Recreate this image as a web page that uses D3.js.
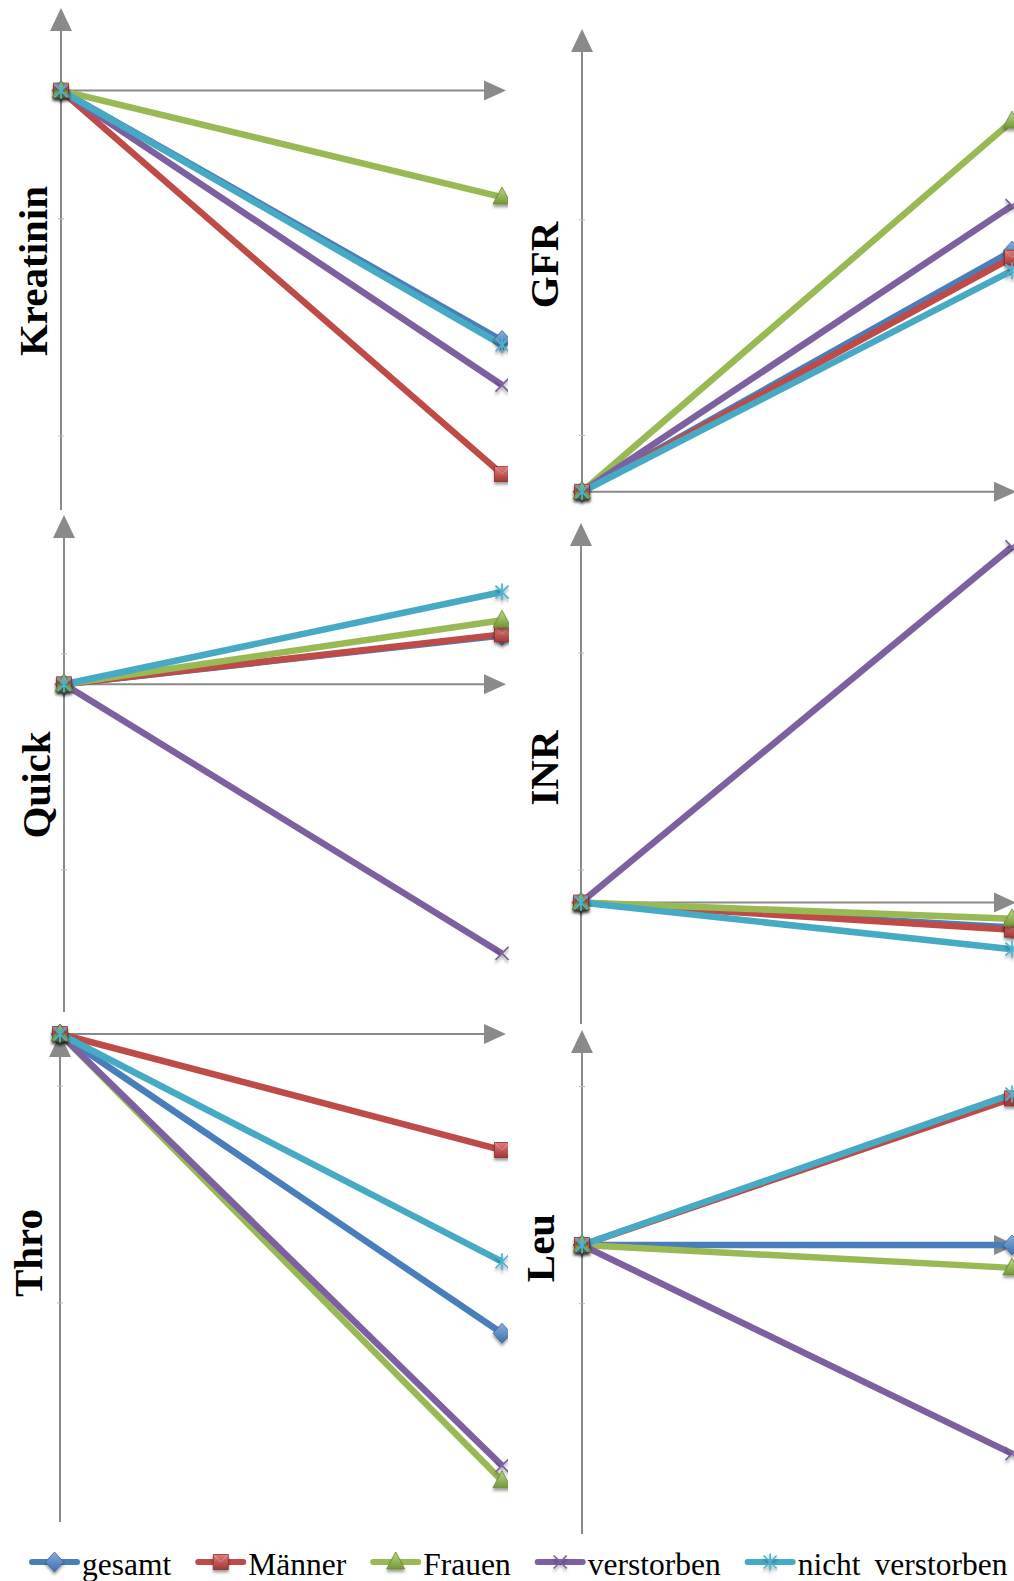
<!DOCTYPE html>
<html>
<head>
<meta charset="utf-8">
<script src="https://cdn.jsdelivr.net/npm/d3@7"></script>
<style>
  html, body { margin: 0; padding: 0; background: #fff; }
  svg { display: block; }
</style>
</head>
<body>
<svg id="chart" width="1014" height="1581"></svg>
<script>
// ---- data ---------------------------------------------------------------
const seriesNames = ["gesamt", "Männer", "Frauen", "verstorben", "nicht verstorben"];
const timepoints = ["Ausgangswert", "Verlauf"];
const parameters = ["Kreatinin", "GFR", "Quick", "INR", "Thro", "Leu"];

// every series is indexed to 0 at the baseline time point
const baselineValues = [0, 0, 0, 0, 0];

// change from baseline (%) at the second time point, in series order
const kreatininValues = [-23.0, -35.3, -9.8, -27.1, -23.4];
const gfrValues       = [22.2, 21.6, 34.2, 26.4, 20.4];
const quickValues     = [4.5, 4.6, 5.9, -24.8, 8.5];
const inrValues       = [-2.3, -2.5, -1.5, 32.8, -4.3];
const throValues      = [-27.6, -10.7, -41.2, -39.8, -21.0];
const leuValues       = [0.0, 13.5, -2.1, -19.2, 13.9];

// value axis extent [min, max] per parameter
const kreatininDomain = [-38.6, 7.6];
const gfrDomain       = [-0.3, 42.7];
const quickDomain     = [-30.2, 15.6];
const inrDomain       = [-11.2, 35.0];
const throDomain      = [-45.0, 0.0];
const leuDomain       = [-26.6, 19.8];

// major tick marks on each value axis
const kreatininTicks = [-11.8, -31.8];
const gfrTicks       = [25.1, 5.2];
const quickTicks     = [2.8, -17.1];
const inrTicks       = [23.0, 3.0];
const throTicks      = [-4.8, -24.8];
const leuTicks       = [14.6, -5.4];

// ---- styling ------------------------------------------------------------
const lineColors = ["#4A7EBB", "#BE4B48", "#98B954", "#7D60A0", "#46AAC5"];
const gradStops = [
  ["#86addf", "#3f6fae"],
  ["#e27b78", "#a13835"],
  ["#bcd983", "#76963a"],
  null,
  null
];
const markerTypes = ["diamond", "square", "triangle", "x", "asterisk"];
const axisColor = "#8a8a8a";

const panelValues  = [kreatininValues, gfrValues, quickValues, inrValues, throValues, leuValues];
const panelDomains = [kreatininDomain, gfrDomain, quickDomain, inrDomain, throDomain, leuDomain];
const panelTicks   = [kreatininTicks, gfrTicks, quickTicks, inrTicks, throTicks, leuTicks];

// panel placement: axis origin column, end column, value axis top/bottom, label anchor
const panelLayout = [
  { x0: 61,  x1: 502,  top: 8,    bottom: 510,  clip: [0, 508],    lx: 47,  ly: 271 },
  { x0: 582, x1: 1012, top: 29,   bottom: 495,  clip: [508, 1014], lx: 558, ly: 265 },
  { x0: 64,  x1: 502,  top: 515,  bottom: 1012, clip: [0, 509],    lx: 50,  ly: 785 },
  { x0: 581, x1: 1012, top: 523,  bottom: 1024, clip: [509, 1014], lx: 558, ly: 768 },
  { x0: 60,  x1: 502,  top: 1034, bottom: 1522, clip: [0, 508],    lx: 42,  ly: 1253 },
  { x0: 582, x1: 1012, top: 1030, bottom: 1534, clip: [508, 1014], lx: 554, ly: 1248 }
];
const panelBands = [[0, 513], [0, 510], [513, 1022], [510, 1027], [1022, 1540], [1027, 1540]];

const svg = d3.select("#chart");
const defs = svg.append("defs");

// bevel-like gradients for filled markers
gradStops.forEach((g, i) => {
  if (!g) return;
  const lg = defs.append("linearGradient")
    .attr("id", "mg" + i).attr("x1", 0).attr("y1", 0).attr("x2", 0).attr("y2", 1);
  lg.append("stop").attr("offset", "0%").attr("stop-color", g[0]);
  lg.append("stop").attr("offset", "100%").attr("stop-color", g[1]);
});

const shadow = defs.append("filter").attr("id", "mshadow")
  .attr("x", "-50%").attr("y", "-50%").attr("width", "200%").attr("height", "200%");
shadow.append("feDropShadow").attr("dx", 0).attr("dy", 2.5)
  .attr("stdDeviation", 1.6).attr("flood-color", "#000").attr("flood-opacity", 0.4);

function drawMarker(g, type, i, x, y, scale = 1) {
  const m = g.append("g")
    .attr("transform", `translate(${x},${y}) scale(${scale})`)
    .attr("filter", "url(#mshadow)");
  if (type === "diamond") {
    m.append("path").attr("d", "M0,-10L9,0L0,10L-9,0Z")
      .attr("fill", `url(#mg${i})`).attr("stroke", "#3a659b").attr("stroke-width", 0.8);
  } else if (type === "square") {
    m.append("rect").attr("x", -7.5).attr("y", -7.5).attr("width", 15).attr("height", 15)
      .attr("fill", `url(#mg${i})`).attr("stroke", "#8c2f2c").attr("stroke-width", 0.8);
    m.append("path").attr("d", "M-7.5,-7.5L0,0L7.5,-7.5").attr("fill", "none")
      .attr("stroke", "rgba(255,255,255,0.35)").attr("stroke-width", 0.8);
  } else if (type === "triangle") {
    m.append("path").attr("d", "M0,-10L9,7L-9,7Z")
      .attr("fill", `url(#mg${i})`).attr("stroke", "#6a8832").attr("stroke-width", 0.8);
  } else if (type === "x") {
    m.append("path").attr("d", "M-6.5,-6.5L6.5,6.5M-6.5,6.5L6.5,-6.5")
      .attr("stroke", "#7D60A0").attr("stroke-width", 1.7).attr("fill", "none");
  } else {
    m.append("path").attr("d", "M-6.5,-6.5L6.5,6.5M-6.5,6.5L6.5,-6.5M0,-8.5L0,8.5")
      .attr("stroke", "#4BB3D0").attr("stroke-width", 1.7).attr("fill", "none");
  }
}

parameters.forEach((name, p) => {
  const L = panelLayout[p];
  const band = panelBands[p];
  const clipId = "clip" + p;
  defs.append("clipPath").attr("id", clipId).append("rect")
    .attr("x", L.clip[0]).attr("y", band[0])
    .attr("width", L.clip[1] - L.clip[0]).attr("height", band[1] - band[0]);

  const g = svg.append("g").attr("clip-path", `url(#${clipId})`);

  const x = d3.scalePoint().domain(timepoints).range([L.x0, L.x1]);
  const y = d3.scaleLinear().domain(panelDomains[p]).range([L.bottom, L.top]);
  const y0 = y(0);

  // value axis with tick marks
  g.append("line").attr("x1", L.x0).attr("x2", L.x0)
    .attr("y1", y.range()[0]).attr("y2", y.range()[1] + 18)
    .attr("stroke", axisColor).attr("stroke-width", 2);
  g.selectAll(".tick").data(panelTicks[p]).enter().append("line")
    .attr("x1", L.x0 - 3).attr("x2", L.x0 + 3)
    .attr("y1", d => y(d)).attr("y2", d => y(d))
    .attr("stroke", "#b9b9b9").attr("stroke-width", 1);
  g.append("path")
    .attr("d", `M${L.x0},${y.range()[1]}L${L.x0 + 11},${y.range()[1] + 23}L${L.x0 - 11},${y.range()[1] + 23}Z`)
    .attr("fill", axisColor);

  // category axis crossing at 0
  const tip = L.x1 + 4;
  g.append("line").attr("x1", L.x0).attr("x2", tip - 18)
    .attr("y1", y0).attr("y2", y0)
    .attr("stroke", axisColor).attr("stroke-width", 2);
  g.append("path")
    .attr("d", `M${tip},${y0}L${tip - 22},${y0 - 10}L${tip - 22},${y0 + 10}Z`)
    .attr("fill", axisColor);

  // series lines
  const line = d3.line().x(d => x(d[0])).y(d => y(d[1]));
  seriesNames.forEach((s, i) => {
    const pts = [[timepoints[0], baselineValues[i]], [timepoints[1], panelValues[p][i]]];
    g.append("path").datum(pts).attr("d", line)
      .attr("fill", "none").attr("stroke", lineColors[i])
      .attr("stroke-width", 6.5).attr("stroke-linecap", "butt");
  });
  // series markers
  seriesNames.forEach((s, i) => {
    drawMarker(g, markerTypes[i], i, x(timepoints[0]), y(baselineValues[i]));
    drawMarker(g, markerTypes[i], i, x(timepoints[1]), y(panelValues[p][i]));
  });

  // parameter label
  svg.append("text")
    .attr("transform", `translate(${L.lx},${L.ly}) rotate(-90)`)
    .attr("text-anchor", "middle")
    .attr("font-family", "'Liberation Serif', 'Times New Roman', serif")
    .attr("font-weight", "bold").attr("font-size", 41)
    .attr("fill", "#000")
    .text(name);
});

// ---- legend ---------------------------------------------------------------
const legend = svg.append("g");
let lx = 30;
const legendLineY = 1562, legendBaseY = 1575;
seriesNames.forEach((s, i) => {
  legend.append("line").attr("x1", lx + 2).attr("x2", lx + 47)
    .attr("y1", legendLineY).attr("y2", legendLineY)
    .attr("stroke", lineColors[i]).attr("stroke-width", 6).attr("stroke-linecap", "round");
  drawMarker(legend, markerTypes[i], i, lx + 24.5, legendLineY, 1.0);
  const t = legend.append("text")
    .attr("x", lx + 52).attr("y", legendBaseY)
    .attr("font-family", "'Liberation Serif', 'Times New Roman', serif")
    .attr("font-size", 31.5).attr("word-spacing", 6).attr("fill", "#000")
    .text(s);
  lx += 52 + t.node().getComputedTextLength() + 25;
});
</script>
</body>
</html>
